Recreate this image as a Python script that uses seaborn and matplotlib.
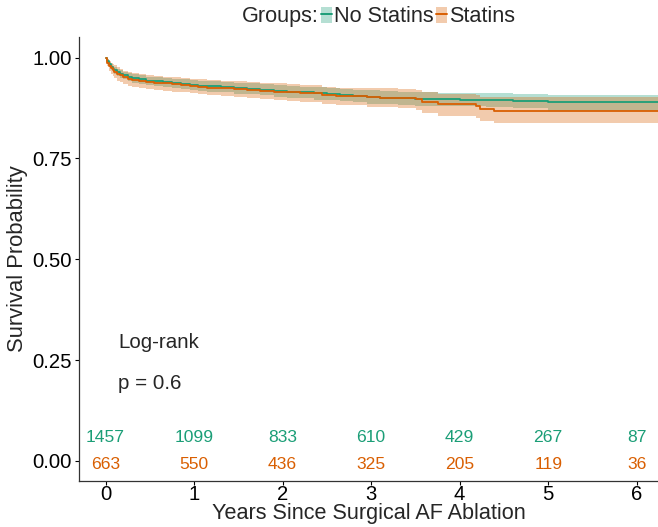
import numpy as np
import pandas as pd
import matplotlib
matplotlib.use("Agg")
import matplotlib.pyplot as plt
import seaborn as sns
from matplotlib.patches import Patch
from matplotlib.lines import Line2D

sns.set_style("white")
plt.rcParams['font.family'] = ['Liberation Sans', 'DejaVu Sans']

# ---- data ----
groups = ["No Statins", "Statins"]
colors = ["#1B9E77", "#D95F02"]

t_ns = [0, 0.02, 0.04, 0.06, 0.08, 0.1, 0.13, 0.16, 0.2, 0.25, 0.3, 0.38, 0.46, 0.55, 0.65,
        0.75, 0.85, 0.95, 1.05, 1.15, 1.3, 1.45, 1.6, 1.75, 1.9, 2.05, 2.2, 2.35, 2.5, 2.65,
        2.8, 2.95, 3.1, 3.3, 3.5, 3.75, 4.0, 4.3, 4.6, 5.0, 6.3]
s_ns = [1.000, 0.991, 0.984, 0.978, 0.973, 0.969, 0.964, 0.960, 0.956, 0.952, 0.949, 0.946,
        0.943, 0.941, 0.939, 0.937, 0.935, 0.933, 0.931, 0.929, 0.927, 0.925, 0.923, 0.921,
        0.918, 0.916, 0.914, 0.912, 0.910, 0.908, 0.906, 0.903, 0.901, 0.899, 0.898, 0.897,
        0.896, 0.895, 0.893, 0.889, 0.889]
up_ns = [1.000, 0.996, 0.990, 0.985, 0.980, 0.977, 0.972, 0.969, 0.965, 0.961, 0.959, 0.956,
         0.953, 0.951, 0.950, 0.948, 0.946, 0.944, 0.943, 0.941, 0.939, 0.938, 0.936, 0.934,
         0.932, 0.930, 0.928, 0.927, 0.925, 0.923, 0.921, 0.919, 0.917, 0.915, 0.914, 0.913,
         0.912, 0.912, 0.911, 0.908, 0.908]
lo_ns = [1.000, 0.985, 0.977, 0.970, 0.965, 0.960, 0.955, 0.950, 0.946, 0.942, 0.938, 0.935,
         0.932, 0.930, 0.927, 0.925, 0.923, 0.921, 0.918, 0.916, 0.914, 0.911, 0.909, 0.907,
         0.903, 0.901, 0.899, 0.896, 0.894, 0.892, 0.890, 0.886, 0.884, 0.882, 0.881, 0.880,
         0.879, 0.877, 0.874, 0.869, 0.869]

t_s = [0, 0.02, 0.04, 0.06, 0.08, 0.1, 0.13, 0.16, 0.2, 0.25, 0.3, 0.38, 0.46, 0.55, 0.65,
       0.75, 0.85, 0.95, 1.05, 1.15, 1.3, 1.45, 1.6, 1.75, 1.9, 2.05, 2.2, 2.45, 2.6, 2.95,
       3.1, 3.3, 3.51, 3.58, 3.75, 4.19, 4.23, 4.39, 6.3]
s_s = [1.000, 0.988, 0.980, 0.974, 0.969, 0.965, 0.960, 0.956, 0.952, 0.948, 0.945, 0.942,
       0.940, 0.938, 0.936, 0.934, 0.932, 0.930, 0.928, 0.926, 0.924, 0.922, 0.920, 0.918,
       0.916, 0.914, 0.913, 0.907, 0.905, 0.902, 0.901, 0.900, 0.897, 0.891, 0.884, 0.880,
       0.873, 0.868, 0.868]
up_s = [1.000, 0.997, 0.992, 0.988, 0.984, 0.981, 0.976, 0.972, 0.968, 0.964, 0.961, 0.959,
        0.957, 0.955, 0.953, 0.951, 0.950, 0.948, 0.946, 0.944, 0.943, 0.941, 0.939, 0.937,
        0.936, 0.934, 0.933, 0.928, 0.926, 0.925, 0.924, 0.923, 0.921, 0.916, 0.911, 0.908,
        0.903, 0.902, 0.902]
lo_s = [1.000, 0.979, 0.968, 0.960, 0.954, 0.949, 0.943, 0.939, 0.935, 0.931, 0.928, 0.925,
        0.922, 0.920, 0.918, 0.916, 0.914, 0.912, 0.909, 0.907, 0.905, 0.902, 0.900, 0.898,
        0.895, 0.893, 0.891, 0.884, 0.882, 0.878, 0.877, 0.875, 0.871, 0.864, 0.856, 0.851,
        0.843, 0.838, 0.838]

risk_times = [0, 1, 2, 3, 4, 5, 6]
risk_ns = [1457, 1099, 833, 610, 429, 267, 87]
risk_s = [663, 550, 436, 325, 205, 119, 36]

x_ticks = [0, 1, 2, 3, 4, 5, 6]
y_ticks = [0.00, 0.25, 0.50, 0.75, 1.00]

# ---- figure ----
fig = plt.figure(figsize=(6.58, 5.27), dpi=100)
ax = fig.add_axes([0.120, 0.0873, 0.880, 0.843])

df = pd.concat([
    pd.DataFrame({"time": t_ns, "surv": s_ns, "group": groups[0]}),
    pd.DataFrame({"time": t_s, "surv": s_s, "group": groups[1]}),
])

# No Statins band + line, then Statins band + line
ax.fill_between(t_ns, lo_ns, up_ns, step="post", color=colors[0], alpha=0.32, lw=0)
sns.lineplot(data=df[df.group == groups[0]], x="time", y="surv", color=colors[0],
             estimator=None, drawstyle="steps-post", lw=1.3, ax=ax, legend=False)
ax.fill_between(t_s, lo_s, up_s, step="post", color=colors[1], alpha=0.32, lw=0)
sns.lineplot(data=df[df.group == groups[1]], x="time", y="surv", color=colors[1],
             estimator=None, drawstyle="steps-post", lw=1.3, ax=ax, legend=False)

# risk numbers
for t, a, b in zip(risk_times, risk_ns, risk_s):
    ax.text(t, 0.057, str(a), color=colors[0], ha="center", va="center", fontsize=12.6)
    ax.text(t, -0.008, str(b), color=colors[1], ha="center", va="center", fontsize=12.6)

ax.text(0.14, 0.293, "Log-rank", ha="left", va="center", fontsize=14.8)
ax.text(0.14, 0.193, "p = 0.6", ha="left", va="center", fontsize=14.8)

ax.set_xlim(-0.3, 6.24)
ax.set_ylim(-0.05, 1.052)
ax.set_xticks(x_ticks)
ax.set_yticks(y_ticks)
ax.set_yticklabels([f"{v:.2f}" for v in y_ticks])
ax.tick_params(axis="both", labelsize=14.6, colors="black", length=3, width=0.8,
               direction="out", bottom=True, left=True, pad=2)
ax.tick_params(axis="x", pad=0)
for s in ["top", "right"]:
    ax.spines[s].set_visible(False)
for s in ["left", "bottom"]:
    ax.spines[s].set_color("#333333")
    ax.spines[s].set_linewidth(0.9)
ax.set_xlabel("Years Since Surgical AF Ablation", fontsize=15.6, labelpad=-1)
ax.set_ylabel("Survival Probability", fontsize=15.8, labelpad=3)
ax.grid(False)

# legend
handles = [Line2D([], [], color="none"),
           (Patch(facecolor=colors[0], alpha=0.32, lw=0), Line2D([], [], color=colors[0], lw=1.4)),
           (Patch(facecolor=colors[1], alpha=0.32, lw=0), Line2D([], [], color=colors[1], lw=1.4))]
labels = ["Groups:", "No Statins", "Statins"]
leg = fig.legend(handles, labels, loc="center", bbox_to_anchor=(0.565, 0.968), ncol=3,
                 frameon=False, fontsize=15.6, handlelength=0.5, handleheight=0.8,
                 handletextpad=0.1, columnspacing=0.1)

fig.savefig("out.png", dpi=100)
